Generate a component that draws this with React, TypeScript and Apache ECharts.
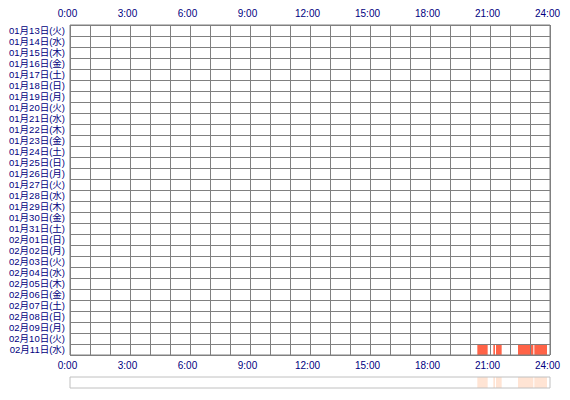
import React, { useEffect, useRef } from "react";
import * as echarts from "echarts";

const days = [
  "01月13日(火)", "01月14日(水)", "01月15日(木)", "01月16日(金)", "01月17日(土)",
  "01月18日(日)", "01月19日(月)", "01月20日(火)", "01月21日(水)", "01月22日(木)",
  "01月23日(金)", "01月24日(土)", "01月25日(日)", "01月26日(月)", "01月27日(火)",
  "01月28日(水)", "01月29日(木)", "01月30日(金)", "01月31日(土)", "02月01日(日)",
  "02月02日(月)", "02月03日(火)", "02月04日(水)", "02月05日(木)", "02月06日(金)",
  "02月07日(土)", "02月08日(日)", "02月09日(月)", "02月10日(火)", "02月11日(水)",
];

const sessionDate = ["02月11日(水)", "02月11日(水)", "02月11日(水)", "02月11日(水)", "02月11日(水)"];
const sessionStart = ["20:22", "21:10", "21:18", "22:24", "23:13"];
const sessionEnd = ["20:53", "21:15", "21:35", "23:10", "23:51"];

const hourTicks = [0, 3, 6, 9, 12, 15, 18, 21, 24];
const summaryRow = ["全体"];

const toHours = (t: string) => {
  const [h, m] = t.split(":").map(Number);
  return h + m / 60;
};

const NAVY = "#000080";
const GRID = "#808080";
const FONT = "'Liberation Sans', 'Noto Sans CJK JP', sans-serif";

export default function App() {
  const ref = useRef<HTMLDivElement>(null);

  useEffect(() => {
    if (!ref.current) return;
    const chart = echarts.init(ref.current, null, { renderer: "svg" });

    const mainData = sessionDate.map((d, i) => [
      toHours(sessionStart[i]),
      toHours(sessionEnd[i]),
      days.indexOf(d),
    ]);
    const sumData = sessionDate.map((d, i) => [
      toHours(sessionStart[i]),
      toHours(sessionEnd[i]),
      0,
    ]);

    const labelFmt = (v: number) => (hourTicks.includes(v) ? `${v}:00` : "");

    const renderMain = (params: any, api: any) => {
      const s = api.coord([api.value(0), api.value(2)]);
      const e = api.coord([api.value(1), api.value(2)]);
      const h = api.size([0, 1])[1];
      return {
        type: "rect",
        shape: { x: s[0], y: s[1] - h / 2 + 1, width: e[0] - s[0], height: h - 1 },
        style: { fill: "#FF6347" },
      };
    };
    const renderSum = (params: any, api: any) => {
      const s = api.coord([api.value(0), api.value(2)]);
      const e = api.coord([api.value(1), api.value(2)]);
      const h = api.size([0, 1])[1];
      return {
        type: "rect",
        shape: { x: s[0], y: s[1] - h / 2, width: e[0] - s[0], height: h },
        style: { fill: "#FFE4D4" },
      };
    };

    chart.setOption({
      animation: false,
      backgroundColor: "#ffffff",
      textStyle: { fontFamily: FONT },
      grid: [
        { left: 70, right: 20, top: 25, height: 330, show: true, borderColor: GRID, borderWidth: 1, z: 6 },
        { left: 70, right: 20, top: 377, height: 11, show: true, borderColor: "#C0C0C0", borderWidth: 1, z: 6 },
      ],
      xAxis: [
        {
          gridIndex: 0, type: "value", position: "top", min: 0, max: 24, interval: 1, z: 5,
          axisLine: { show: false }, axisTick: { show: false },
          splitLine: { show: true, lineStyle: { color: GRID, width: 1 } },
          axisLabel: { formatter: labelFmt, color: NAVY, fontSize: 10, fontFamily: FONT, margin: 6, padding: [0, 5, 0, 0], lineHeight: 11 },
        },
        {
          gridIndex: 0, type: "value", position: "bottom", min: 0, max: 24, interval: 1,
          axisLine: { show: false }, axisTick: { show: false }, splitLine: { show: false },
          axisLabel: { formatter: labelFmt, color: NAVY, fontSize: 10, fontFamily: FONT, margin: 5, padding: [0, 5, 0, 0], lineHeight: 11 },
        },
        { gridIndex: 1, type: "value", min: 0, max: 24, show: false, splitLine: { show: false } },
      ],
      yAxis: [
        {
          gridIndex: 0, type: "category", data: days, inverse: true, z: 5,
          axisLine: { show: false }, axisTick: { show: false },
          splitLine: { show: true, lineStyle: { color: GRID, width: 1 } },
          axisLabel: { color: NAVY, fontSize: 9.5, fontFamily: FONT, margin: 5, interval: 0, lineHeight: 10 },
        },
        { gridIndex: 1, type: "category", data: summaryRow, show: false },
      ],
      series: [
        { type: "custom", xAxisIndex: 0, yAxisIndex: 0, renderItem: renderMain, data: mainData, encode: { x: [0, 1], y: 2 }, z: 1 },
        { type: "custom", xAxisIndex: 2, yAxisIndex: 1, renderItem: renderSum, data: sumData, encode: { x: [0, 1], y: 2 }, z: 1 },
      ],
    });

    return () => chart.dispose();
  }, []);

  return (
    <div
      ref={ref}
      style={{ position: "absolute", left: 0, top: 0, width: 570, height: 400 }}
    />
  );
}
